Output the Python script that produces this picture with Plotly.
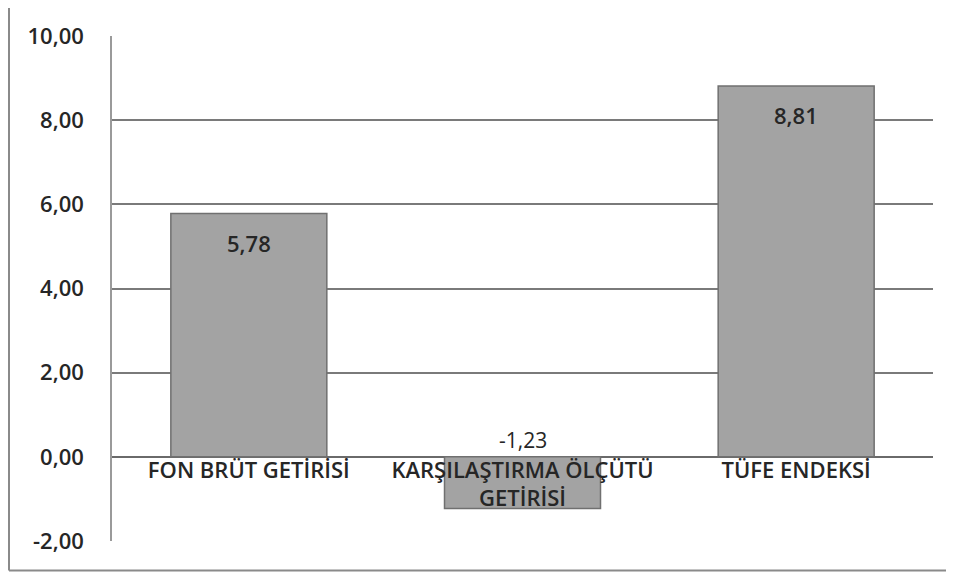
import plotly.graph_objects as go

categories = ["FON BRÜT GETİRİSİ", "KARŞILAŞTIRMA ÖLÇÜTÜ<br>GETİRİSİ", "TÜFE ENDEKSİ"]
values = [5.78, -1.23, 8.81]
value_labels = ["5,78", "-1,23", "8,81"]
y_tickvals = [-2, 0, 2, 4, 6, 8, 10]
y_ticktext = ["-2,00", "0,00", "2,00", "4,00", "6,00", "8,00", "10,00"]

# the page body has an 8px margin; the figure is sized to fit the window
W, H = 946, 565
ml, mr, mt, mb = 104, 21, 21, 32
ymin, ymax = -2, 10
pw, ph = W - ml - mr, H - mt - mb

fig = go.Figure()
fig.add_trace(go.Bar(
    x=categories, y=values, width=0.57,
    marker=dict(color="#a3a3a3", line=dict(color="#707070", width=1.5)),
    hoverinfo="skip", showlegend=False,
))

font = "'Open Sans', Lato, sans-serif"
txt = "#262626"
for c, v, t in zip(categories, values, value_labels):
    if v >= 0:
        fig.add_annotation(x=c, y=v, text=t, showarrow=False, yanchor="top", yshift=-12,
                           font=dict(family=font, size=22, color=txt, weight=600))
    else:
        fig.add_annotation(x=c, y=0, text=t, showarrow=False, yanchor="bottom", yshift=1,
                           font=dict(family=font, size=21, color=txt, weight=400))

zero_pos = (0 - ymin) / (ymax - ymin)
fx = lambda px: (px - ml) / pw           # figure px -> paper x
fy = lambda py: (H - mb - py) / ph       # figure px -> paper y
fig.update_layout(
    width=W, height=H,
    margin=dict(l=ml, r=mr, t=mt, b=mb),
    paper_bgcolor="white", plot_bgcolor="white",
    font=dict(family=font, color=txt),
    xaxis=dict(
        type="category", anchor="free", position=zero_pos,
        showgrid=False, showline=False, ticks="", zeroline=False,
        ticklabelstandoff=-2,
        tickfont=dict(family=font, size=22, color=txt, weight=600),
        fixedrange=True,
    ),
    yaxis=dict(
        range=[ymin, ymax], tickvals=y_tickvals, ticktext=y_ticktext,
        showgrid=True, gridcolor="#7a7a7a", gridwidth=1.5,
        zeroline=True, zerolinecolor="#6a6a6a", zerolinewidth=1.5,
        showline=True, linecolor="#9a9a9a", linewidth=1.5,
        ticks="", ticklabelstandoff=22,
        tickfont=dict(family=font, size=22, color=txt, weight=600),
        fixedrange=True,
    ),
    shapes=[
        dict(type="line", xref="paper", yref="paper",
             x0=fx(1), x1=fx(1), y0=fy(563), y1=fy(-8),
             line=dict(color="#8a8a8a", width=2)),
        dict(type="line", xref="paper", yref="paper",
             x0=fx(1), x1=fx(946), y0=fy(563), y1=fy(563),
             line=dict(color="#8a8a8a", width=2)),
    ],
)

fig.write_html("out.html")
